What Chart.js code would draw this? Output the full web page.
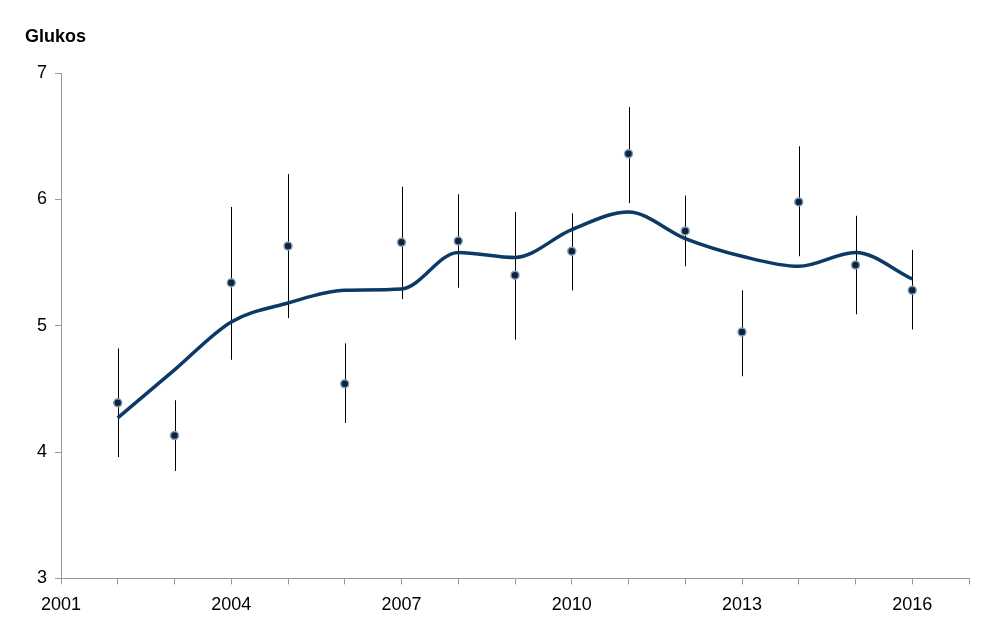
<!DOCTYPE html>
<html><head><meta charset="utf-8">
<script src="https://cdn.jsdelivr.net/npm/chart.js@4/dist/chart.umd.min.js"></script>
<style>html,body{margin:0;padding:0;background:#fff;overflow:hidden}</style>
</head><body><canvas id="c" width="996" height="626"></canvas>
<script>
const years=[2002,2003,2004,2005,2006,2007,2008,2009,2010,2011,2012,2013,2014,2015,2016];
const means=[4.39,4.13,5.34,5.63,4.54,5.66,5.67,5.40,5.59,6.36,5.75,4.95,5.98,5.48,5.28];
const lows=[3.96,3.85,4.73,5.06,4.23,5.21,5.30,4.89,5.28,5.97,5.47,4.60,5.55,5.09,4.97];
const highs=[4.82,4.41,5.94,6.20,4.86,6.10,6.04,5.90,5.89,6.73,6.03,5.28,6.42,5.87,5.60];
const trend=[4.27,4.65,5.03,5.18,5.28,5.29,5.58,5.54,5.76,5.90,5.69,5.55,5.47,5.58,5.37];
const xLabels=[2001,2004,2007,2010,2013,2016];
const errPlugin={id:'err',beforeDatasetsDraw(ch){const x=ch.scales.x,y=ch.scales.y,c=ch.ctx;c.save();c.strokeStyle='#000';c.lineWidth=1;
years.forEach((yr,i)=>{const px=Math.round(x.getPixelForValue(yr))+0.5;c.beginPath();c.moveTo(px,y.getPixelForValue(lows[i]));c.lineTo(px,y.getPixelForValue(highs[i]));c.stroke();});c.restore();}};
const titlePlugin={id:'ttl',afterDraw(ch){const c=ch.ctx;c.save();c.font='bold 18px Arial, "Liberation Sans"';c.fillStyle='#000';c.textBaseline='middle';c.fillText('Glukos',25,37);c.restore();}};
new Chart(document.getElementById('c'),{
type:'scatter',
data:{datasets:[
{type:'line',data:years.map((y,i)=>({x:y,y:trend[i]})),borderColor:'#0b3a66',borderWidth:3.5,pointRadius:0,tension:0.4,cubicInterpolationMode:'monotone',order:2},
{data:years.map((y,i)=>({x:y,y:means[i]})),pointRadius:4,pointBackgroundColor:'#0b2440',pointBorderColor:'#8a9fb5',pointBorderWidth:1.5,order:1}
]},
options:{responsive:false,animation:false,devicePixelRatio:1,
layout:{padding:{left:0,right:27,top:73,bottom:0}},
plugins:{legend:{display:false},tooltip:{enabled:false}},
scales:{
x:{type:'linear',min:2001,max:2017,afterBuildTicks(a){a.ticks=[];for(let v=2001;v<=2017;v++)a.ticks.push({value:v});},
grid:{display:true,drawOnChartArea:false,drawTicks:true,tickLength:6,color:'#999'},border:{color:'#999'},
ticks:{autoSkip:false,maxRotation:0,padding:10,color:'#000',font:{size:18,family:'Arial, "Liberation Sans"'},callback:v=>xLabels.includes(v)?String(v):''}},
y:{min:3,max:7,afterFit(a){a.width=61;},grid:{drawOnChartArea:false,tickLength:6,color:'#999'},border:{color:'#999'},
ticks:{stepSize:1,padding:8,color:'#000',font:{size:18,family:'Arial, "Liberation Sans"'}}}
}},
plugins:[errPlugin,titlePlugin]});
</script>
</body></html>
